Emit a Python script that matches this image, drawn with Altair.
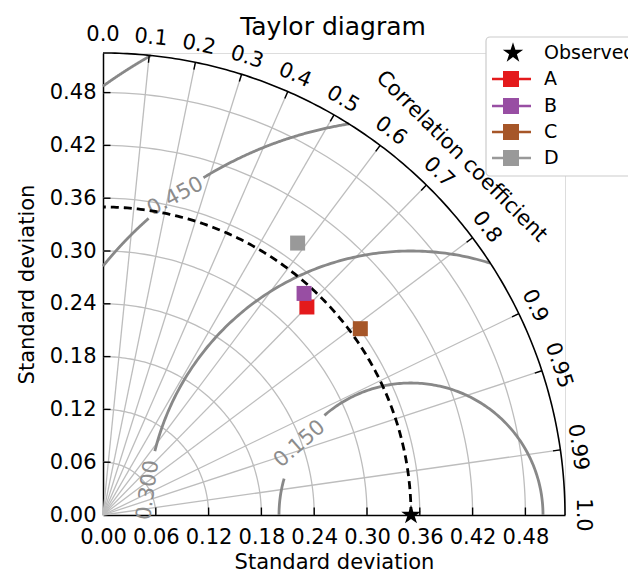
import numpy as np
import pandas as pd
import altair as alt

# ---------------- data ----------------
names = ["A", "B", "C", "D"]
colors = ["#e41a1c", "#984ea3", "#a65628", "#999999"]
model_std = [0.331, 0.340, 0.361, 0.380]
model_corr = [0.700, 0.672, 0.810, 0.582]
observed_label = "Observed"
ref_std = 0.35
max_std = 0.525

std_ticks = [0.00, 0.06, 0.12, 0.18, 0.24, 0.30, 0.36, 0.42, 0.48]
corr_ticks = [0.0, 0.1, 0.2, 0.3, 0.4, 0.5, 0.6, 0.7, 0.8, 0.9, 0.95, 0.99, 1.0]
corr_tick_labels = ["0.0", "0.1", "0.2", "0.3", "0.4", "0.5", "0.6", "0.7",
                    "0.8", "0.9", "0.95", "0.99", "1.0"]
corr_grid = [0.1, 0.2, 0.3, 0.4, 0.5, 0.6, 0.7, 0.8, 0.9, 0.95, 0.99]

rms_levels = [0.15, 0.30, 0.45, 0.60]
rms_labels = ["0.150", "0.300", "0.450"]
# where each contour label sits (angle around the reference point, degrees) and its rotation
rms_label_phi = [147.5, 174.6, 126.5]
rms_label_rot = [319, 278, 332]
rms_gaps = [(131.0, 164.0), (166.0, 181.0), (121.6, 131.5), None]

# ---------------- layout ----------------
W = H = 462
FONT = "DejaVu Sans"
FS = 21
LFS = 19
GRID = "#bdbdbd"
CONT = "#888888"
STAR = ("M0,-1L0.2245,-0.309L0.951,-0.309L0.363,0.118L0.588,0.809L0,0.382"
        "L-0.588,0.809L-0.363,0.118L-0.951,-0.309L-0.2245,-0.309Z")

xscale = alt.Scale(domain=[0, max_std], nice=False, zero=False)
yscale = alt.Scale(domain=[0, max_std], nice=False, zero=False)
common_axis = dict(values=std_ticks, format=".2f", title="Standard deviation", grid=False,
                   ticks=False, tickSize=0, labelFlush=False, labelOverlap=False,
                   labelFontSize=FS, titleFontSize=FS, titleFontWeight="normal",
                   titleBaseline="alphabetic", domainColor="black", domainWidth=1.5,
                   labelColor="black", titleColor="black", labelFont=FONT, titleFont=FONT)
xaxis = alt.Axis(labelPadding=11, titleX=231, titleY=53, **common_axis)
yaxis = alt.Axis(labelPadding=7, titleX=-70, titleY=231, titleAngle=270, **common_axis)


def X(f="x"):
    return alt.X(f"{f}:Q", scale=xscale, axis=xaxis)


def Y(f="y"):
    return alt.Y(f"{f}:Q", scale=yscale, axis=yaxis)


layers = []

# std grid arcs
rows = []
for s in std_ticks[1:]:
    for k, a in enumerate(np.radians(np.linspace(0, 90, 91))):
        rows.append(dict(level=s, k=k, x=s * np.cos(a), y=s * np.sin(a)))
layers.append(alt.Chart(pd.DataFrame(rows)).mark_line(color=GRID, strokeWidth=1.3).encode(
    x=X(), y=Y(), detail="level:N", order="k:Q"))

# correlation radial grid lines
rad = pd.DataFrame([dict(x=0.0, y=0.0, x2=max_std * c, y2=max_std * np.sqrt(1 - c * c))
                    for c in corr_grid])
layers.append(alt.Chart(rad).mark_rule(color=GRID, strokeWidth=1.3).encode(
    x=X(), y=Y(), x2="x2:Q", y2="y2:Q"))

# RMS contours (centred on the reference point)
rows = []
seg = 0
for lev, gap in zip(rms_levels, rms_gaps):
    cmin = (max_std ** 2 - lev ** 2 - ref_std ** 2) / (2 * ref_std * lev)
    phi_min = 0.0 if cmin >= 1 else np.degrees(np.arccos(cmin))
    phi_max = 180.0 if lev <= ref_std else np.degrees(np.arccos(-ref_std / lev))
    spans = [(phi_min, phi_max)]
    if gap is not None:
        spans = [(phi_min, min(gap[0], phi_max)), (max(gap[1], phi_min), phi_max)]
    for a0, a1 in spans:
        if a1 <= a0:
            continue
        for k, p in enumerate(np.radians(np.linspace(a0, a1, 150))):
            rows.append(dict(seg=seg, k=k, x=ref_std + lev * np.cos(p), y=lev * np.sin(p)))
        seg += 1
layers.append(alt.Chart(pd.DataFrame(rows)).mark_line(color=CONT, strokeWidth=2.8).encode(
    x=X(), y=Y(), detail="seg:N", order="k:Q"))

# contour labels
lab = []
for lev, t, p, r in zip(rms_levels, rms_labels, rms_label_phi, rms_label_rot):
    pr = np.radians(p)
    lab.append(dict(x=ref_std + lev * np.cos(pr), y=lev * np.sin(pr), t=t, rot=r))
layers.append(alt.Chart(pd.DataFrame(lab)).mark_text(
    font=FONT, fontSize=FS, color="#8c8c8c", align="center", baseline="middle").encode(
    x=X(), y=Y(), text="t:N", angle=alt.Angle("rot:Q", scale=None)))

# reference std dashed arc
rows = [dict(k=k, x=ref_std * np.cos(a), y=ref_std * np.sin(a))
        for k, a in enumerate(np.radians(np.linspace(0, 90, 181)))]
layers.append(alt.Chart(pd.DataFrame(rows)).mark_line(
    color="black", strokeWidth=2.8, strokeDash=[8, 5]).encode(x=X(), y=Y(), order="k:Q"))

# outer arc
rows = [dict(k=k, x=max_std * np.cos(a), y=max_std * np.sin(a))
        for k, a in enumerate(np.radians(np.linspace(0, 90, 181)))]
layers.append(alt.Chart(pd.DataFrame(rows)).mark_line(color="black", strokeWidth=1.6).encode(
    x=X(), y=Y(), order="k:Q"))

# ticks on outer arc (inward)
tl = 0.0085
rows = []
for c in corr_ticks[1:-1]:
    s = np.sqrt(1 - c * c)
    rows.append(dict(x=max_std * c, y=max_std * s, x2=(max_std - tl) * c, y2=(max_std - tl) * s))
# ticks on the straight axes (inward)
for v in std_ticks[1:]:
    rows.append(dict(x=v, y=0.0, x2=v, y2=tl))
    rows.append(dict(x=0.0, y=v, x2=tl, y2=v))
layers.append(alt.Chart(pd.DataFrame(rows)).mark_rule(color="black", strokeWidth=1.4).encode(
    x=X(), y=Y(), x2="x2:Q", y2="y2:Q"))

# correlation tick labels
rl = 0.545
rows = []
for c, t in zip(corr_ticks, corr_tick_labels):
    th = np.arccos(c)
    rows.append(dict(x=rl * np.cos(th), y=rl * np.sin(th), t=t, rot=90 - np.degrees(th)))
layers.append(alt.Chart(pd.DataFrame(rows)).mark_text(
    font=FONT, fontSize=FS, color="black", align="center", baseline="middle").encode(
    x=X(), y=Y(), text="t:N", angle=alt.Angle("rot:Q", scale=None)))

# "Correlation coefficient" title along the arc
rt = 0.576
layers.append(alt.Chart(pd.DataFrame([dict(x=rt * np.cos(np.pi / 4), y=rt * np.sin(np.pi / 4),
                                           t="Correlation coefficient")])).mark_text(
    font=FONT, fontSize=FS, color="black", align="center", baseline="middle", angle=45).encode(
    x=X(), y=Y(), text="t:N"))

# model points
pts = pd.DataFrame(dict(name=names, color=colors,
                        x=[s * c for s, c in zip(model_std, model_corr)],
                        y=[s * np.sqrt(1 - c * c) for s, c in zip(model_std, model_corr)]))
layers.append(alt.Chart(pts).mark_point(shape="square", filled=True, size=225, opacity=1).encode(
    x=X(), y=Y(), color=alt.Color("color:N", scale=None)))

# observed star
layers.append(alt.Chart(pd.DataFrame(dict(x=[ref_std], y=[0.0]))).mark_point(
    shape=STAR, filled=True, size=420, color="black", opacity=1).encode(x=X(), y=Y()))

# title
one = pd.DataFrame(dict(d=[0]))
layers.append(alt.Chart(one).mark_text(
    text="Taylor diagram", font=FONT, fontSize=25, color="black", align="center",
    baseline="alphabetic").encode(x=alt.value(230), y=alt.value(-18)))

# legend
layers.append(alt.Chart(one).mark_rect(
    fill="white", stroke="#cccccc", strokeWidth=1.2, cornerRadius=4).encode(
    x=alt.value(383), x2=alt.value(600), y=alt.value(-16), y2=alt.value(123)))
leg_y = [0, 26, 53, 79, 105]
layers.append(alt.Chart(one).mark_point(shape=STAR, filled=True, size=460, color="black",
                                        opacity=1).encode(x=alt.value(410), y=alt.value(leg_y[0])))
layers.append(alt.Chart(one).mark_text(
    text=observed_label, font=FONT, fontSize=LFS, color="black", align="left",
    baseline="middle").encode(x=alt.value(441), y=alt.value(leg_y[0])))
for nm, col, yy in zip(names, colors, leg_y[1:]):
    layers.append(alt.Chart(one).mark_rule(color=col, strokeWidth=2.4).encode(
        x=alt.value(389), x2=alt.value(428), y=alt.value(yy)))
    layers.append(alt.Chart(one).mark_point(shape="square", filled=True, size=256, color=col,
                                            opacity=1).encode(x=alt.value(408), y=alt.value(yy)))
    layers.append(alt.Chart(one).mark_text(
        text=nm, font=FONT, fontSize=LFS, color="black", align="left",
        baseline="middle").encode(x=alt.value(441), y=alt.value(yy)))

chart = alt.layer(*layers).properties(
    width=W, height=H,
    padding={"left": 103, "top": 53, "right": 63, "bottom": 57},
    autosize=alt.AutoSizeParams(type="none"),
).configure_view(strokeWidth=0).configure(font=FONT, background="white")

chart.save("out.html", embed_options={"renderer": "svg", "actions": False})
